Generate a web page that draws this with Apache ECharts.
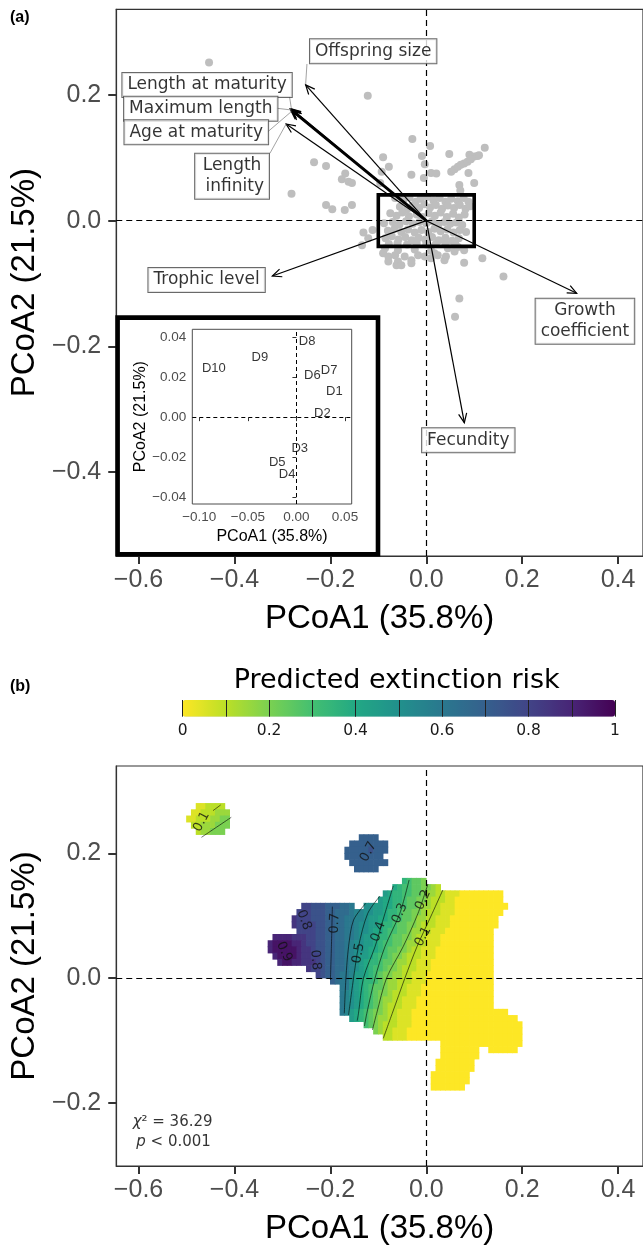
<!DOCTYPE html>
<html><head><meta charset="utf-8">
<script src="https://cdn.jsdelivr.net/npm/echarts@6/dist/echarts.min.js"></script>
<style>html,body{margin:0;padding:0;background:#fff}#c{width:643px;height:1247px}</style>
</head><body><div id="c"></div>
<script>
// ---------------- data ----------------
const xTicks = [-0.6, -0.4, -0.2, 0, 0.2, 0.4];
const yTicksA = [-0.4, -0.2, 0, 0.2];
const yTicksB = [-0.2, 0, 0.2];
const insetXTicks = [-0.1, -0.05, 0, 0.05];
const insetYTicks = [-0.04, -0.02, 0, 0.02, 0.04];
const barLabels = [0, 0.2, 0.4, 0.6, 0.8, 1];

const speciesPoints = [
 [-0.453,0.252],[-0.122,0.199],
 [-0.029,0.130],[0.008,0.119],[0.122,0.116],[0.048,0.106],[0.090,0.105],[0.100,0.102],[0.107,0.103],[-0.090,0.101],[-0.009,0.103],[-0.234,0.093],[-0.209,0.087],[-0.078,0.086],[-0.003,0.090],
 [0.052,0.078],[0.059,0.082],[0.066,0.086],[0.072,0.089],[0.079,0.091],[0.086,0.094],[0.093,0.098],[0.110,0.104],
 [-0.093,0.078],[-0.169,0.075],[-0.176,0.066],[-0.162,0.062],[-0.155,0.060],[-0.031,0.073],[0.010,0.076],[0.021,0.075],[0.088,0.076],[-0.005,0.068],[-0.096,0.060],[0.069,0.057],[0.100,0.060],[0.071,0.048],
 [-0.281,0.043],[-0.209,0.025],[-0.196,0.018],[-0.170,0.017],[-0.155,0.025],
 [-0.131,-0.019],[-0.112,-0.015],[-0.134,-0.039],[-0.121,-0.028],
 [-0.090,-0.052],[-0.079,-0.057],[-0.065,-0.055],[-0.059,-0.065],[-0.045,-0.057],[-0.031,-0.063],[-0.017,-0.055],[-0.003,-0.057],[0.010,-0.060],[0.024,-0.055],[0.041,-0.057],[0.059,-0.049],[0.079,-0.047],[-0.062,-0.071],[-0.031,-0.068],[0.117,-0.060],[0.079,-0.067],[-0.052,-0.071],[0.161,-0.089],[0.069,-0.124],[0.060,-0.153],[-0.079,-0.065],[0.038,-0.063],[0.017,-0.052],
 [-0.086,-0.044],[-0.059,-0.047],[-0.024,-0.046],[0.010,-0.048],[0.045,-0.044],[0.066,-0.042],
 [-0.065,0.036],[-0.048,0.033],[-0.035,0.037],[-0.022,0.030],[-0.012,0.035],[0.002,0.038],[0.015,0.032],[0.028,0.036],[0.040,0.030],[0.052,0.035],[0.066,0.031],[0.078,0.036],[0.088,0.030],
 [-0.055,0.022],[-0.040,0.018],[-0.028,0.024],[-0.015,0.020],[-0.004,0.026],[0.008,0.021],[0.020,0.025],[0.033,0.019],[0.045,0.024],[0.058,0.020],[0.070,0.025],[0.082,0.019],[0.092,0.023],
 [-0.075,0.012],[-0.062,0.008],[-0.050,0.013],[-0.036,0.007],[-0.020,0.010],[-0.008,0.006],[0.005,0.012],[0.018,0.008],[0.030,0.013],[0.043,0.006],[0.056,0.011],[0.068,0.005],[0.080,0.010],
 [-0.088,-0.004],[-0.070,-0.002],[-0.056,-0.006],[-0.042,-0.001],[-0.028,-0.005],[-0.014,-0.002],[0.000,-0.004],[0.012,-0.001],[0.025,-0.006],[0.038,-0.002],[0.050,-0.005],[0.063,-0.003],[0.075,-0.007],
 [-0.080,-0.016],[-0.066,-0.013],[-0.052,-0.018],[-0.038,-0.014],[-0.024,-0.019],[-0.010,-0.015],[0.004,-0.018],[0.017,-0.013],[0.030,-0.017],[0.044,-0.014],[0.057,-0.019],[0.070,-0.015],[0.083,-0.018],
 [-0.085,-0.028],[-0.072,-0.025],[-0.058,-0.030],[-0.044,-0.026],[-0.030,-0.031],[-0.016,-0.027],[-0.002,-0.030],[0.012,-0.026],[0.026,-0.031],[0.040,-0.027],[0.054,-0.032],[0.068,-0.028],
 [-0.078,-0.037],[-0.060,-0.036],[-0.040,-0.038],[-0.020,-0.036],[0.000,-0.038],[0.020,-0.037],[0.040,-0.036],[0.060,-0.035]
];

const traitNames = ['Offspring size','Length at maturity','Maximum length','Age at maturity','Length infinity','Trophic level','Growth coefficient','Fecundity'];
const traitLabelText = ['Offspring size','Length at maturity','Maximum length','Age at maturity','Length\n infinity','Trophic level','Growth\ncoefficient','Fecundity'];
const traitTipX = [-0.2515, -0.2809, -0.2815, -0.2798, -0.2922, -0.3210, 0.3137, 0.0794];
const traitTipY = [ 0.2161,  0.1779,  0.1763,  0.1747,  0.1540, -0.0881, -0.1156, -0.3217];
const traitLabelX = [-0.1107, -0.4571, -0.4703, -0.4796, -0.4050, -0.4581, 0.3309, 0.0877];
const traitLabelY = [ 0.2697,  0.2161,  0.1783,  0.1408,  0.0707, -0.0944, -0.1600, -0.3497];
// leader segments [x0,y0,x1,y1]
const leaderSegs = [
 [-0.2488,0.2495,-0.2515,0.2177],
 [-0.2852,0.1975,-0.2815,0.1795],
 [-0.3117,0.1790,-0.2815,0.1763],
 [-0.3303,0.1417,-0.2815,0.1736],
 [-0.3260,0.1073,-0.2922,0.1540]
];
const zoomBox = [-0.100, 0.041, 0.100, -0.041];

const insetNames = ['D1','D2','D3','D4','D5','D6','D7','D8','D9','D10'];
const insetX = [0.0391, 0.0267, 0.0034, -0.0096, -0.0198, 0.0164, 0.0336, 0.0110, -0.0377, -0.0850];
const insetY = [0.0127, 0.0017, -0.0157, -0.0285, -0.0228, 0.0208, 0.0232, 0.0377, 0.0298, 0.0242];

// predicted risk grid: cell centres x = riskX0 + col*riskStep, y = riskY0 - row*riskStep
// letters: a=0.00, b=0.05, c=0.10 ... u=1.00
const riskX0 = -0.335, riskY0 = 0.235, riskStep = 0.01;
const riskSegments = [
 [-4,-14,"bbcccc"],
 [-3,-15,"bbcccddd"],
 [-2,-16,"bbcccddee"],
 [-1,-15,"ccdddeee"],
 [0,-14,"cddeee"],
 [1,20,"oooo"],
 [2,18,"oooooooo"],
 [3,17,"ooooopooo"],
 [4,17,"oooooooo"],
 [5,18,"oooooooo"],
 [6,19,"ooooo"],
 [8,29,"hgffe"],
 [9,27,"ihggffeedc"],
 [10,25,"jihhggffeddccbbbaaaaaaaaa"],
 [11,24,"jiihhgffeedcccbbaaaaaaaaaa"],
 [12,8,"qqpppooonnm"],
 [12,21,"kkjjiihggffeddccbbbaaaaaaaaaaa"],
 [13,7,"qqqpppoonnnmllkkjjihhgffeedcccbbbaaaaaaaaaa"],
 [14,6,"rqqqpppoonnmmllkjjiihggffeddccbbbaaaaaaaaaa"],
 [15,6,"rqqqqppoonnmmlkkjjihhgffeedcccbbbaaaaaaaaaa"],
 [16,7,"qqqqppoonnmmlkkjiihggffeddccbbbaaaaaaaaaa"],
 [17,2,"ssssrrrqqppoonnmmlkjjihhgffeedccbbbaaaaaaaaaaa"],
 [18,1,"sttttssrqqppoonnmlkkjjihggffeddccbbbaaaaaaaaaaa"],
 [19,1,"stttttsrrqppoonnmlkkjiihgffeedccbbbaaaaaaaaaaaa"],
 [20,2,"sttttsrrqqpoonnmlkjjihggfeedcccbbbaaaaaaaaaaaa"],
 [21,3,"sttssrrrqpoonnmlkjihhgffeddccbbbaaaaaaaaaaaaa"],
 [22,9,"rqqpoonnmlkjihggfeedcccbbbaaaaaaaaaaaaa"],
 [23,11,"qpoonmmljjihgfeeddccbbbaaaaaaaaaaaaaa"],
 [24,14,"onmmkjihhgfeddcccbbbaaaaaaaaaaaaaa"],
 [25,16,"mmkjihgffeddccbbbaaaaaaaaaaaaaaa"],
 [26,16,"mlkjihgfeedcccbbbaaaaaaaaaaaaaaa"],
 [27,16,"mlkjihgfeddccbbbaaaaaaaaaaaaaaaa"],
 [28,16,"mlkjihgfedcccbbbaaaaaaaaaaaaaaaa"],
 [29,16,"mljihgfeedccbbbaaaaaaaaaaaaaaaaaaaa"],
 [30,18,"jihgfeddccbbbaaaaaaaaaaaaaaaaaaaaaa"],
 [31,21,"gfedcccbbbaaaaaaaaaaaaaaaaaaaaaaa"],
 [32,23,"edccbbbaaaaaaaaaaaaaaaaaaaaaaaa"],
 [33,25,"ccbbbaaaaaaaaaaaaaaaaaaaaaaaa"],
 [34,37,"aaaaaaaaaaaaaaaaa"],
 [35,37,"aaaaaaaa"],[35,47,"aaaaaa"],
 [36,37,"aaaaaaaa"],
 [37,36,"aaaaaaaa"],
 [38,36,"aaaaaaaa"],
 [39,35,"aaaaaaaa"],
 [40,35,"aaaaaaaa"],
 [41,35,"aaaaaaa"]
];

const contour01 = [[0.0345,0.1411],[0.0125,0.1037],[-0.0193,0.0503],[-0.0447,-0.0005],[-0.0709,-0.0567],[-0.0896,-0.0968]];
const contour02 = [[0.0035,0.1508],[-0.0172,0.1037],[-0.0482,0.0503],[-0.0827,0],[-0.1034,-0.0567],[-0.1123,-0.0834]];
const contour03 = [[-0.0358,0.1572],[-0.0551,0.1037],[-0.0861,0.0503],[-0.1068,0],[-0.1240,-0.0567],[-0.1289,-0.0770]];
const contour04 = [[-0.0689,0.1476],[-0.0861,0.1037],[-0.1068,0.0503],[-0.1309,0],[-0.1413,-0.0567],[-0.1440,-0.0684]];
const contour05 = [[-0.0965,0.1315],[-0.1220,0.1037],[-0.1413,0.0503],[-0.1516,0],[-0.1620,-0.0593]];
const contour06 = [[-0.1261,0.1198],[-0.1516,0.0930],[-0.1620,0.0503],[-0.1675,0],[-0.1709,-0.0567]];
const contour07 = [[-0.1958,0.1144],[-0.1978,0.0503],[-0.1999,-0.0032]];
const contourBlobA = [[-0.4288,0.2775],[-0.4447,0.2684]];
const contourBlobB = [[-0.4067,0.2577],[-0.4688,0.2256]];

const contourLabelText = ['0.1','0.2','0.3','0.4','0.5','0.7','0.8','0.8','0.9','0.7','0.1'];
const contourLabelX = [-0.0068,-0.0068,-0.0551,-0.0999,-0.1413,-0.1909,-0.2550,-0.2309,-0.2964,-0.1206,-0.4686];
const contourLabelY = [0.0663,0.1251,0.1037,0.0743,0.0396,0.0877,0.0930,0.0289,0.0422,0.2026,0.2507];
const contourLabelAngle = [62,66,66,70,80,88,-70,-85,-65,62,62];

const statX = [-0.529, -0.527];
const statY = [-0.2318, -0.2625];

// ---------------- build ----------------
const viridisRev = ['#FDE725','#BBDF27','#7AD151','#43BF71','#22A884','#21908C','#2A788E','#35608D','#414487','#482576','#440154'];
const heatData = [];
riskSegments.forEach(([row, col, s]) => {
  for (let i = 0; i < s.length; i++) {
    const ch = s[i]; if (ch === '.') continue;
    heatData.push([riskX0 + (col + i) * riskStep, riskY0 - row * riskStep, (ch.charCodeAt(0) - 97) * 0.05]);
  }
});
const minus = v => (v < 0 ? '\u2212' : '');
const fmt1 = v => minus(v) + Math.abs(v).toFixed(1);
const fmt2 = v => minus(v) + Math.abs(Math.round(v*100)/100).toFixed(2);

const XMIN = -0.6465, XMAX = 0.452;
const tickFont = {fontFamily:'Liberation Sans', fontSize:25, color:'#4d4d4d'};
const nameFont = {fontFamily:'Liberation Sans', fontSize:33, color:'#000'};
function mainX(gi) {
  return {gridIndex: gi, type:'value', min: XMIN, max: XMAX,
    name:'PCoA1 (35.8%)', nameLocation:'middle', nameGap: 46, nameTextStyle: nameFont,
    axisLine:{show:true, onZero:false, lineStyle:{color:'#333', width:1.2}},
    axisTick:{show:true, length:8, customValues:xTicks, lineStyle:{color:'#333', width:2}},
    axisLabel:{customValues:xTicks, formatter: fmt1, margin:12, ...tickFont},
    splitLine:{show:false}};
}
function mainY(gi, mn, mx, ticks) {
  return {gridIndex: gi, type:'value', min: mn, max: mx,
    name:'PCoA2 (21.5%)', nameLocation:'middle', nameGap: 61, nameTextStyle: nameFont,
    axisLine:{show:true, onZero:false, lineStyle:{color:'#333', width:1.2}},
    axisTick:{show:true, length:8, customValues:ticks, lineStyle:{color:'#333', width:2}},
    axisLabel:{customValues:ticks, formatter: fmt1, margin:15, ...tickFont},
    splitLine:{show:false}};
}

function arrowItem(params, api) {
  const a = api.coord([api.value(0), api.value(1)]);
  const b = api.coord([api.value(2), api.value(3)]);
  const w = api.value(4);
  const ang = Math.atan2(b[1]-a[1], b[0]-a[0]);
  const L = 10, sp = 0.42;
  const h1 = [b[0]-L*Math.cos(ang-sp), b[1]-L*Math.sin(ang-sp)];
  const h2 = [b[0]-L*Math.cos(ang+sp), b[1]-L*Math.sin(ang+sp)];
  return {type:'group', children:[
    {type:'line', shape:{x1:a[0], y1:a[1], x2:b[0], y2:b[1]}, style:{stroke:'#000', lineWidth:w}},
    {type:'polyline', shape:{points:[h1, b, h2]}, style:{stroke:'#000', lineWidth:Math.max(1.2, w*0.8), fill:null}}
  ]};
}
const arrowData = traitNames.map((n, i) => [0, 0, traitTipX[i], traitTipY[i], n === 'Maximum length' ? 3 : 1.2]);

const contourSeries = [contour01, contour02, contour03, contour04, contour05, contour06, contour07, contourBlobA, contourBlobB].map(c => ({
  type:'line', xAxisIndex:3, yAxisIndex:3, data:c, smooth:0.3, symbol:'none', z:3, silent:true,
  lineStyle:{color:'#000', width:0.7, opacity:0.85}
}));

const option = {
  animation:false,
  backgroundColor:'#fff',
  grid:[
    {left:115.7, top:9.3, width:531, height:546.7, show:true, borderColor:'#333', borderWidth:1.2, backgroundColor:'transparent'},
    {left:117.6, top:317.6, width:260.4, height:236.6, show:true, borderColor:'#000', borderWidth:4.6, backgroundColor:'#fff', z:3},
    {left:192.3, top:329.3, width:159.4, height:174.7, show:true, borderColor:'#4d4d4d', borderWidth:1, backgroundColor:'#fff', z:4},
    {left:115.7, top:766, width:531, height:400, show:true, borderColor:'#333', borderWidth:1.2, backgroundColor:'transparent'},
    {left:182.7, top:700, width:432.3, height:16.7, show:false}
  ],
  xAxis:[
    mainX(0),
    {gridIndex:1, type:'value', show:false, min:0, max:1},
    {gridIndex:2, type:'value', min:-0.1072, max:0.0569, z:5,
      name:'PCoA1 (35.8%)', nameLocation:'middle', nameGap:25, nameTextStyle:{fontFamily:'Liberation Sans', fontSize:16, color:'#000'},
      axisLine:{show:false},
      axisTick:{show:true, length:4, customValues:insetXTicks, lineStyle:{color:'#333', width:1}},
      axisLabel:{customValues:insetXTicks, formatter:fmt2, margin:6, fontFamily:'Liberation Sans', fontSize:13.5, color:'#4d4d4d'},
      splitLine:{show:false}},
    mainX(3),
    {gridIndex:4, type:'value', min:0, max:1, interval:0.1, z:10,
      axisLine:{show:false}, axisTick:{show:false},
      axisLabel:{customValues:barLabels, formatter: v => (v===0||v===1) ? String(v) : v.toFixed(1), margin:6, fontFamily:'DejaVu Sans', fontSize:15.5, color:'#1a1a1a'},
      splitLine:{show:true, lineStyle:{color:'#222', width:1}}}
  ],
  yAxis:[
    mainY(0, -0.534, 0.3366, yTicksA),
    {gridIndex:1, type:'value', show:false, min:0, max:1},
    {gridIndex:2, type:'value', min:-0.0435, max:0.044, z:5,
      name:'PCoA2 (21.5%)', nameLocation:'middle', nameGap:41, nameTextStyle:{fontFamily:'Liberation Sans', fontSize:16, color:'#000'},
      axisLine:{show:false},
      axisTick:{show:true, length:4, customValues:insetYTicks, lineStyle:{color:'#333', width:1}},
      axisLabel:{customValues:insetYTicks, formatter:fmt2, margin:6, fontFamily:'Liberation Sans', fontSize:13.5, color:'#4d4d4d'},
      splitLine:{show:false}},
    mainY(3, -0.3015, 0.34, yTicksB),
    {gridIndex:4, type:'value', show:false, min:0, max:1}
  ],
  visualMap:[{
    type:'continuous', min:0, max:1, dimension:2, seriesIndex:9,
    orient:'horizontal', left:182.7, top:700, itemWidth:16.7, itemHeight:432.3, padding:0,
    calculable:false, hoverLink:false, text:null, z:1,
    inRange:{color:viridisRev}
  }],
  graphic:[
    {type:'text', x:10, y:10, style:{text:'(a)', font:'bold 16px "Liberation Sans"', fill:'#000'}},
    {type:'text', x:10, y:679, style:{text:'(b)', font:'bold 16px "Liberation Sans"', fill:'#000'}},
    {type:'text', x:396.7, y:681, style:{text:'Predicted extinction risk', font:'27px "DejaVu Sans"', fill:'#000', align:'center', verticalAlign:'middle'}}
  ],
  series:[
    {type:'line', xAxisIndex:0, yAxisIndex:0, data:[], z:1, silent:true,
      markLine:{silent:true, symbol:'none', label:{show:false}, lineStyle:{color:'#000', type:[6,4], width:1.2},
        data:[{xAxis:0},{yAxis:0}]}},
    {type:'scatter', xAxisIndex:0, yAxisIndex:0, data:speciesPoints, symbolSize:8, z:2, silent:true,
      itemStyle:{color:'#bebebe', opacity:1}},
    {type:'custom', xAxisIndex:0, yAxisIndex:0, data:arrowData, renderItem:arrowItem, z:3, silent:true,
      encode:{x:[0,2], y:[1,3]}},
    {type:'custom', xAxisIndex:0, yAxisIndex:0, data:leaderSegs, z:3, silent:true, encode:{x:[0,2], y:[1,3]},
      renderItem:(p, api) => {
        const a = api.coord([api.value(0), api.value(1)]), b = api.coord([api.value(2), api.value(3)]);
        return {type:'line', shape:{x1:a[0], y1:a[1], x2:b[0], y2:b[1]}, style:{stroke:'#8c8c8c', lineWidth:0.8}};
      }},
    {type:'custom', xAxisIndex:0, yAxisIndex:0, data:[zoomBox], z:4, silent:true, encode:{x:[0,2], y:[1,3]},
      renderItem:(p, api) => {
        const a = api.coord([api.value(0), api.value(1)]), b = api.coord([api.value(2), api.value(3)]);
        return {type:'rect', shape:{x:a[0], y:a[1], width:b[0]-a[0], height:b[1]-a[1]}, style:{stroke:'#000', lineWidth:3.6, fill:null}};
      }},
    {type:'scatter', xAxisIndex:0, yAxisIndex:0, z:6, silent:true, symbolSize:0,
      data: traitLabelText.map((t, i) => ({name:t, value:[traitLabelX[i], traitLabelY[i]]})),
      label:{show:true, position:'inside', formatter:'{b}', fontFamily:'DejaVu Sans', fontSize:17, color:'#000',
        backgroundColor:'#fff', borderColor:'#444', borderWidth:1, padding:[2,5,1,5], lineHeight:21, align:'center'}},
    {type:'line', xAxisIndex:2, yAxisIndex:2, data:[], z:5, silent:true,
      markLine:{silent:true, symbol:'none', label:{show:false}, lineStyle:{color:'#000', type:[4,3], width:1},
        data:[{xAxis:0},{yAxis:0}]}},
    {type:'scatter', xAxisIndex:2, yAxisIndex:2, z:6, silent:true, symbolSize:0,
      data: insetNames.map((n, i) => ({name:n, value:[insetX[i], insetY[i]]})),
      label:{show:true, position:'inside', formatter:'{b}', fontFamily:'Liberation Sans', fontSize:13, color:'#000'}},
    {type:'line', xAxisIndex:3, yAxisIndex:3, data:[], z:1, silent:true,
      markLine:{silent:true, symbol:'none', label:{show:false}, lineStyle:{color:'#000', type:[6,4], width:1.2},
        data:[{xAxis:0},{yAxis:0}]}},
    {type:'custom', xAxisIndex:3, yAxisIndex:3, data:heatData, z:2, silent:true, encode:{x:0, y:1},
      renderItem:(p, api) => {
        const x = api.value(0), y = api.value(1), h = riskStep/2;
        const a = api.coord([x-h, y+h]), b = api.coord([x+h, y-h]);
        return {type:'rect', shape:{x:a[0]-0.35, y:a[1]-0.35, width:b[0]-a[0]+0.7, height:b[1]-a[1]+0.7},
          style:{fill:api.visual('color')}};
      }},
    ...contourSeries,
    {type:'scatter', xAxisIndex:3, yAxisIndex:3, z:4, silent:true, symbolSize:0,
      data: contourLabelText.map((t, i) => ({name:t, value:[contourLabelX[i], contourLabelY[i]],
        label:{rotate:contourLabelAngle[i]}})),
      label:{show:true, position:'inside', formatter:'{b}', fontFamily:'DejaVu Sans', fontSize:13, color:'#111'}},
    {type:'scatter', xAxisIndex:3, yAxisIndex:3, z:4, silent:true, symbolSize:0,
      data:[{name:'chi', value:[statX[0], statY[0]]}, {name:'p', value:[statX[1], statY[1]]}],
      label:{show:true, position:'inside', fontFamily:'DejaVu Sans', fontSize:15, color:'#000',
        formatter: p => p.dataIndex === 0 ? '{i|\u03c7}\u00b2 = 36.29' : '{i|p} < 0.001',
        rich:{i:{fontStyle:'italic', fontFamily:'DejaVu Sans', fontSize:15, color:'#000'}}}}
  ]
};
const chart = echarts.init(document.getElementById('c'), null, {renderer:'canvas'});
chart.setOption(option);
</script></body></html>
